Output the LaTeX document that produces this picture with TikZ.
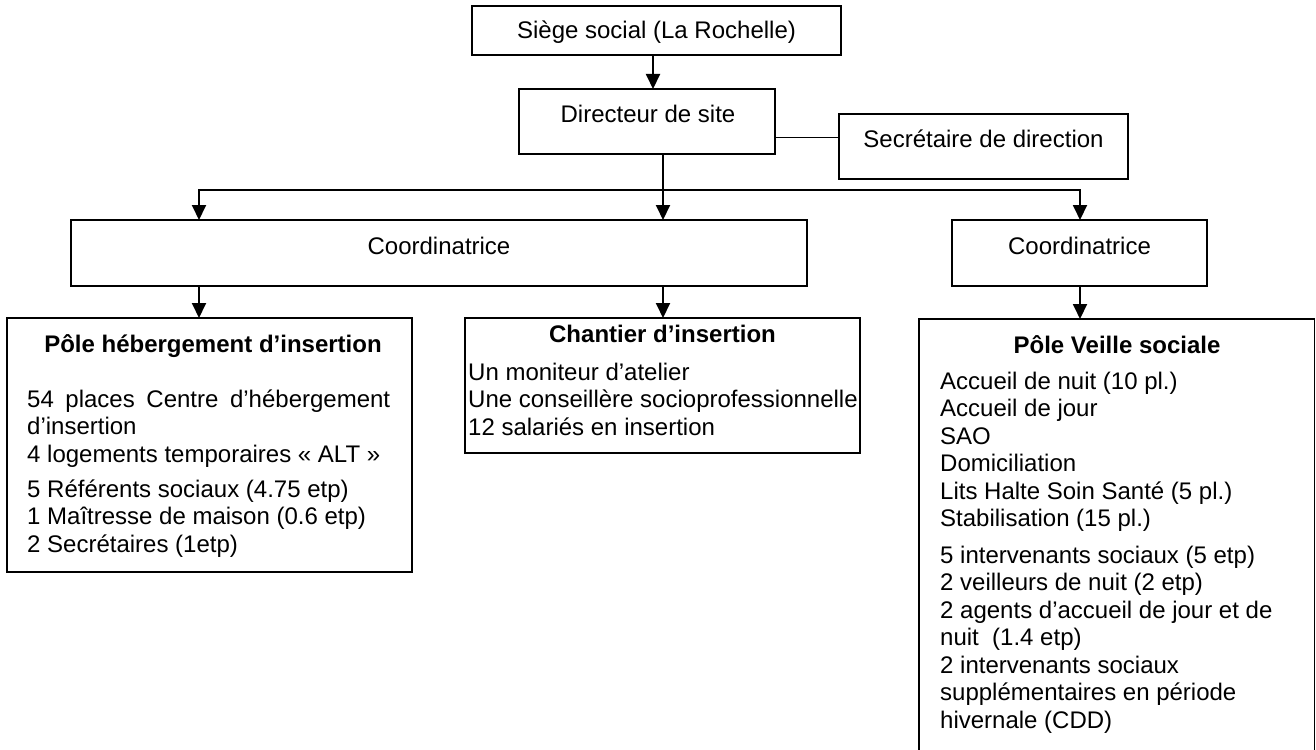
\documentclass[tikz,border=0pt]{standalone}
\usepackage{fontspec}
\setmainfont{Liberation Sans}
\usetikzlibrary{arrows.meta}
\begin{document}
\begin{tikzpicture}[x=1pt,y=-1pt,
  box/.style={draw, line width=1.9pt, inner sep=0pt, outer sep=0pt, anchor=north west},
  conn/.style={line width=1.9pt},
  arr/.style={conn, -{Triangle[length=15pt,width=14pt]}},
  lbl/.style={inner sep=0pt, anchor=base, font=\fontsize{24}{27.5}\selectfont},
  ttl/.style={lbl, font=\fontsize{24}{27.5}\selectfont\bfseries},
  blk/.style={inner sep=0pt, anchor=base west, font=\fontsize{24}{27.5}\selectfont}
]
\useasboundingbox (0,0) rectangle (1316,749);
\fill[white] (0,0) rectangle (1316,749);

% boxes
\node[box, minimum width=369pt, minimum height=49pt] (siege) at (472,6) {};
\node[box, minimum width=256pt, minimum height=65pt] (dir) at (519,89) {};
\node[box, minimum width=289pt, minimum height=65pt] (secr) at (839,114) {};
\node[box, minimum width=736pt, minimum height=66pt] (coordA) at (71,220) {};
\node[box, minimum width=255pt, minimum height=66pt] (coordB) at (952,220) {};
\node[box, minimum width=405pt, minimum height=254pt] (heb) at (7,318) {};
\node[box, minimum width=395pt, minimum height=135pt] (chant) at (465,318) {};
\node[inner sep=0pt, outer sep=0pt, anchor=north west, minimum width=395.5pt, minimum height=460pt] (veille) at (919,319) {};
\draw[conn] (veille.south west) |- (veille.north east) -- (veille.south east);

% texts
\node[lbl] (tSiege) at (656.5,39) {Siège social (La Rochelle)};
\node[lbl] (tDir) at (648,122) {Directeur de site};
\node[lbl] (tSecr) at (983.5,147) {Secrétaire de direction};
\node[lbl] (tCoA) at (439,254) {Coordinatrice};
\node[lbl] (tCoB) at (1079.5,254) {Coordinatrice};

\node[ttl] (tHeb) at (213,352) {Pôle hébergement d’insertion};
\node[blk] (tHebTxt) at (27,407) {\parbox[t]{363pt}{\makebox[363pt][s]{54 places Centre d’hébergement}\\
d’insertion\\
4 logements temporaires «~ALT~»\\[7.5pt]
5 Référents sociaux (4.75 etp)\\
1 Maîtresse de maison (0.6 etp)\\
2 Secrétaires (1etp)}};

\node[ttl] (tChant) at (662.5,342) {Chantier d’insertion};
\node[blk] (tChantTxt) at (468,380) {\parbox[t]{390pt}{Un moniteur d’atelier\\
Une conseillère socioprofessionnelle\\
12 salariés en insertion}};

\node[ttl] (tVeille) at (1117,353) {Pôle Veille sociale};
\node[blk] (tVeilleTxt) at (940,389) {\parbox[t]{370pt}{Accueil de nuit (10 pl.)\\
Accueil de jour\\
SAO\\
Domiciliation\\
Lits Halte Soin Santé (5 pl.)\\
Stabilisation (15 pl.)\\[9pt]
5 intervenants sociaux (5 etp)\\
2 veilleurs de nuit (2 etp)\\
2 agents d’accueil de jour et de\\
nuit~ (1.4 etp)\\
2 intervenants sociaux\\
supplémentaires en période\\
hivernale (CDD)}};

% connectors
\coordinate (xa) at (653,0);
\coordinate (xm) at (663,0);
\coordinate (xl) at (199,190);
\coordinate (xr) at (1080,190);
\coordinate (ys) at (0,137.5);

\draw[arr] (siege.south -| xa) -- (dir.north -| xa);
\draw[conn] (dir.east |- ys) -- (secr.west |- ys);
\draw[arr] (dir.south -| xm) -- (coordA.north -| xm);
\draw[arr] (xm |- xl) -| (coordA.north -| xl);
\draw[arr] (xm |- xr) -| (coordB.north -| xr);
\draw[arr] (coordA.south -| xl) -- (heb.north -| xl);
\draw[arr] (coordA.south -| xm) -- (chant.north -| xm);
\draw[arr] (coordB.south -| xr) -- (veille.north -| xr);
\end{tikzpicture}
\end{document}
